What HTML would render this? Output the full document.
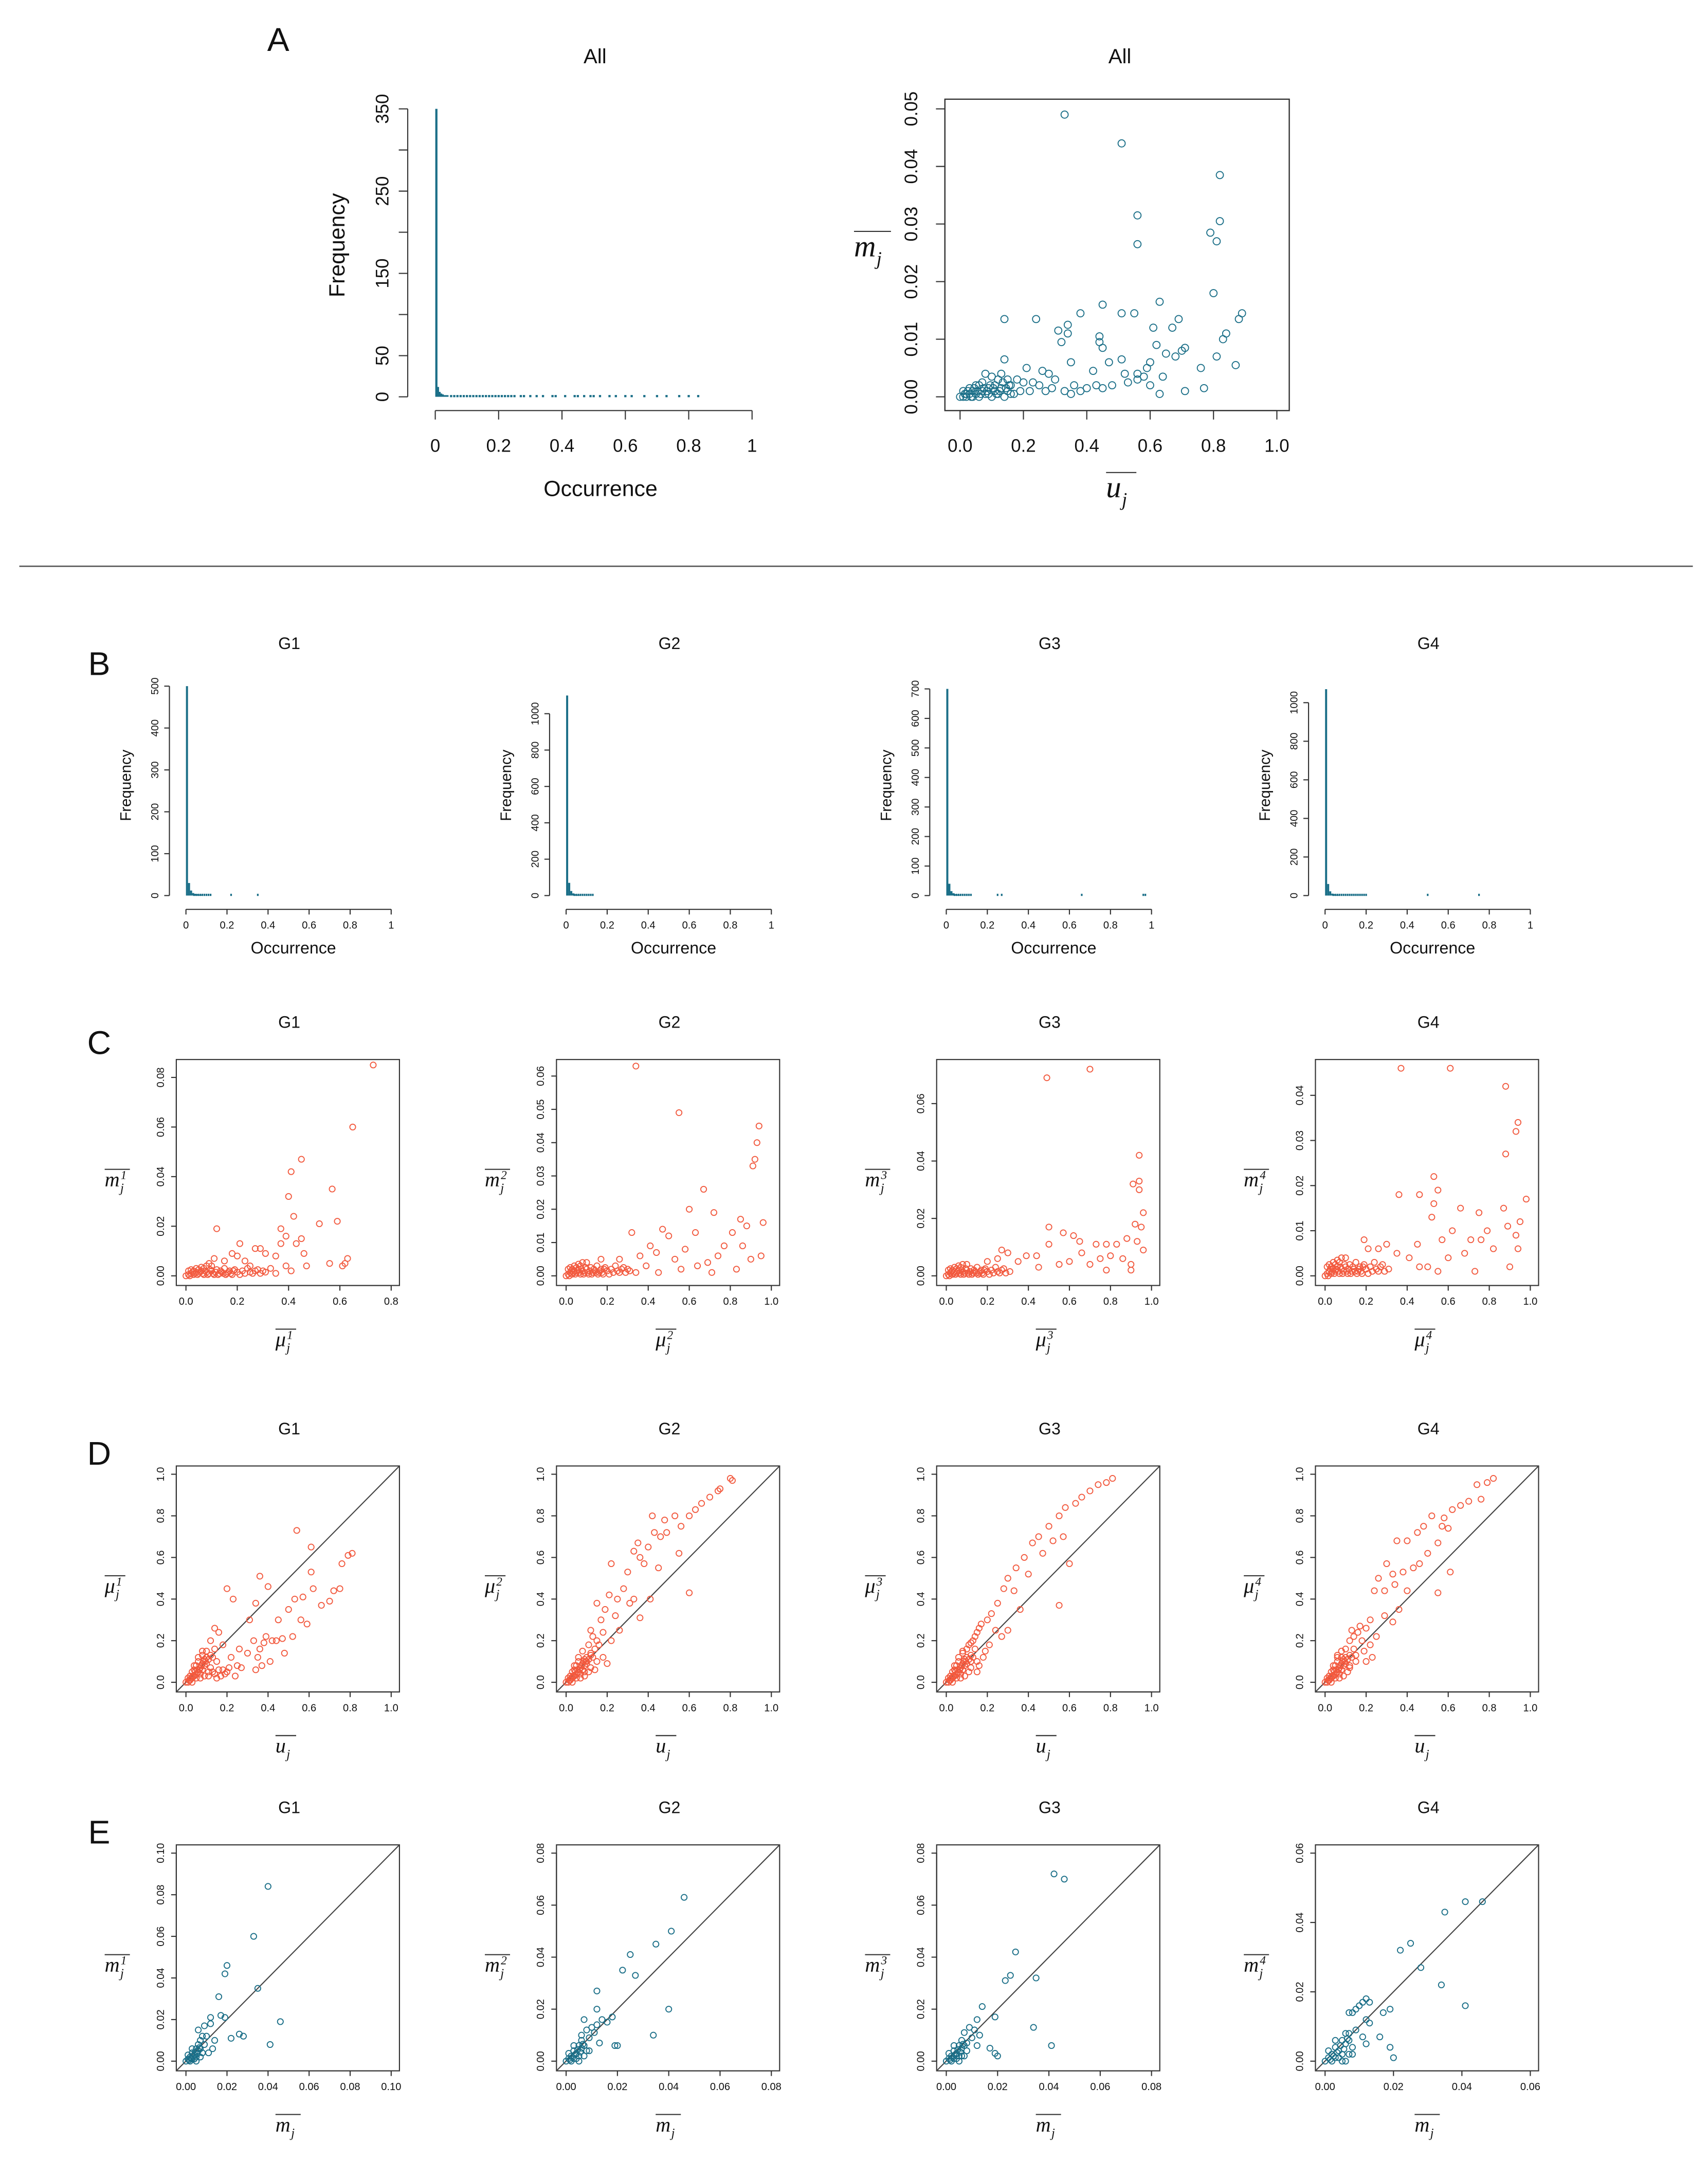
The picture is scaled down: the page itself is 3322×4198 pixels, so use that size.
<!DOCTYPE html>
<html><head><meta charset="utf-8"><title>Figure</title>
<style>
html,body{margin:0;padding:0;background:#fff;}
svg{display:block;}
text{font-family:"Liberation Sans",sans-serif;fill:#111;}
.m{font-family:"Liberation Serif",serif;font-style:italic;}
</style></head>
<body>
<svg id="fig" xmlns="http://www.w3.org/2000/svg" width="3322" height="4198" viewBox="0 0 1240 1567" preserveAspectRatio="none"></svg>
<script>
// ---------- DATA ----------
const aHistBins=[350,12,6,4,3,2,2,2];
const aHistTail=[0.05,0.06,0.07,0.08,0.09,0.1,0.11,0.12,0.13,0.14,0.15,0.16,0.17,0.18,0.19,0.2,0.21,0.22,0.23,0.24,0.25,0.27,0.28,0.3,0.32,0.34,0.37,0.38,0.41,0.44,0.45,0.47,0.49,0.5,0.52,0.55,0.57,0.6,0.62,0.66,0.7,0.73,0.77,0.8,0.83];
const aScatter=[[0.33,0.049],[0.51,0.044],[0.82,0.0385],[0.56,0.0315],[0.56,0.0265],[0.82,0.0305],[0.79,0.0285],[0.81,0.027],[0.80,0.018],[0.45,0.016],[0.63,0.0165],[0.89,0.0145],[0.88,0.0135],[0.14,0.0135],[0.24,0.0135],[0.38,0.0145],[0.51,0.0145],[0.55,0.0145],[0.69,0.0135],[0.67,0.012],[0.61,0.012],[0.31,0.0115],[0.34,0.0125],[0.34,0.011],[0.44,0.0105],[0.44,0.0095],[0.32,0.0095],[0.83,0.010],[0.84,0.011],[0.62,0.009],[0.45,0.0085],[0.70,0.008],[0.71,0.0085],[0.65,0.0075],[0.68,0.007],[0.81,0.007],[0.87,0.0055],[0.35,0.006],[0.51,0.0065],[0.14,0.0065],[0.60,0.006],[0.59,0.005],[0.76,0.005],[0.52,0.004],[0.56,0.004],[0.64,0.0035],[0.77,0.0015],[0.71,0.001],[0.63,0.0005],[0.60,0.002],[0.58,0.0035],[0.56,0.003],[0.42,0.0045],[0.47,0.006],[0.26,0.0045],[0.28,0.004],[0.21,0.005],[0.18,0.003],[0.30,0.003],[0.36,0.002],[0.40,0.0015],[0.43,0.002],[0.38,0.001],[0.33,0.001],[0.25,0.002],[0.22,0.001],[0.2,0.0025],[0.16,0.002],[0.12,0.003],[0.1,0.0035],[0.08,0.004],[0.06,0.002],[0.04,0.001],[0.02,0.0005],[0.01,0.001],[0.03,0.0015],[0.05,0.0005],[0.07,0.001],[0.09,0.0015],[0.11,0.001],[0.13,0.0015],[0.15,0.001],[0.17,0.0005],[0.19,0.001],[0.02,0.0],[0.04,0.0],[0.06,0.0],[0.08,0.0005],[0.1,0.0],[0.12,0.0005],[0.14,0.0],[0.0,0.0],[0.01,0.0],[0.03,0.0005],[0.05,0.002],[0.07,0.0025],[0.09,0.0005],[0.11,0.002],[0.13,0.004],[0.15,0.003],[0.16,0.0005],[0.23,0.0025],[0.27,0.001],[0.29,0.0015],[0.35,0.0005],[0.45,0.0015],[0.48,0.002],[0.53,0.0025],[0.015,0.0005],[0.025,0.001],[0.035,0.0],[0.045,0.0015],[0.055,0.001],[0.065,0.0005],[0.075,0.0015],[0.085,0.001],[0.095,0.002],[0.105,0.0015],[0.115,0.0005],[0.125,0.001],[0.135,0.0025],[0.145,0.0015],[0.155,0.002]];
const bBins=[[500,30,12,6,4,3,2,2],[1100,70,25,12,6,4,3],[700,40,15,8,4,3,2],[1070,60,22,10,6,4,3]];
const bTails=[[0.04,0.05,0.06,0.07,0.08,0.09,0.1,0.11,0.12,0.22,0.35],[0.04,0.05,0.06,0.07,0.08,0.09,0.1,0.11,0.12,0.13],[0.04,0.05,0.06,0.07,0.08,0.09,0.1,0.11,0.12,0.25,0.27,0.66,0.96,0.97],[0.04,0.05,0.06,0.07,0.08,0.09,0.1,0.11,0.12,0.13,0.14,0.15,0.16,0.17,0.18,0.19,0.2,0.5,0.75]];
const bYTicks=[[0,100,200,300,400,500],[0,200,400,600,800,1000],[0,100,200,300,400,500,600,700],[0,200,400,600,800,1000]];
const xTicks01=[0,0.2,0.4,0.6,0.8,1];
const cl=[[0.01,0.0005],[0.02,0.001],[0.03,0.0005],[0.04,0.0015],[0.05,0.001],[0.06,0.002],[0.07,0.0005],[0.08,0.0015],[0.09,0.001],[0.1,0.002],[0.11,0.0005],[0.12,0.0025],[0.13,0.001],[0.14,0.0015],[0.15,0.003],[0.16,0.001],[0.17,0.002],[0.18,0.0005],[0.19,0.0025],[0.2,0.0015],[0.02,0.0025],[0.04,0.003],[0.06,0.0035],[0.08,0.004],[0.1,0.004],[0.03,0.002],[0.05,0.0025],[0.07,0.003],[0.0,0.0],[0.01,0.002],[0.22,0.002],[0.24,0.003],[0.26,0.001],[0.28,0.0025],[0.015,0.0],[0.025,0.0015],[0.035,0.001],[0.045,0.0005],[0.055,0.0015],[0.065,0.001],[0.075,0.002],[0.085,0.0005],[0.095,0.0025],[0.105,0.001],[0.115,0.0015],[0.125,0.0005],[0.135,0.002],[0.145,0.001],[0.155,0.0005],[0.165,0.0015],[0.175,0.001],[0.185,0.002],[0.21,0.0005],[0.23,0.001],[0.25,0.0015],[0.27,0.002],[0.29,0.001],[0.31,0.0015]];
const c1=[[0.73,0.085],[0.65,0.060],[0.45,0.047],[0.41,0.042],[0.40,0.032],[0.57,0.035],[0.59,0.022],[0.42,0.024],[0.52,0.021],[0.37,0.019],[0.12,0.019],[0.39,0.016],[0.45,0.015],[0.43,0.013],[0.37,0.013],[0.27,0.011],[0.21,0.013],[0.29,0.011],[0.20,0.008],[0.18,0.009],[0.31,0.009],[0.35,0.008],[0.46,0.009],[0.56,0.005],[0.62,0.005],[0.63,0.007],[0.61,0.004],[0.47,0.004],[0.41,0.002],[0.33,0.003],[0.25,0.004],[0.23,0.006],[0.15,0.006],[0.11,0.007],[0.09,0.005],[0.3,0.002],[0.35,0.001],[0.39,0.004]];
const c2=[[0.34,0.063],[0.55,0.049],[0.94,0.045],[0.93,0.040],[0.92,0.035],[0.91,0.033],[0.67,0.026],[0.60,0.020],[0.72,0.019],[0.85,0.017],[0.96,0.016],[0.88,0.015],[0.47,0.014],[0.32,0.013],[0.63,0.013],[0.50,0.012],[0.81,0.013],[0.41,0.009],[0.58,0.008],[0.77,0.009],[0.86,0.009],[0.44,0.007],[0.36,0.006],[0.26,0.005],[0.17,0.005],[0.53,0.005],[0.69,0.004],[0.74,0.006],[0.9,0.005],[0.95,0.006],[0.64,0.003],[0.56,0.002],[0.45,0.001],[0.39,0.003],[0.83,0.002],[0.71,0.001],[0.3,0.002],[0.34,0.001]];
const c3=[[0.70,0.072],[0.49,0.069],[0.94,0.042],[0.91,0.032],[0.94,0.033],[0.94,0.030],[0.96,0.022],[0.92,0.018],[0.95,0.017],[0.5,0.017],[0.57,0.015],[0.62,0.014],[0.65,0.012],[0.73,0.011],[0.78,0.011],[0.83,0.011],[0.5,0.011],[0.88,0.013],[0.93,0.012],[0.96,0.009],[0.66,0.008],[0.75,0.006],[0.8,0.007],[0.86,0.006],[0.9,0.004],[0.44,0.007],[0.39,0.007],[0.3,0.008],[0.35,0.005],[0.45,0.003],[0.55,0.004],[0.6,0.005],[0.7,0.004],[0.78,0.002],[0.9,0.002],[0.25,0.006],[0.2,0.005],[0.27,0.009]];
const c4=[[0.37,0.046],[0.61,0.046],[0.88,0.042],[0.94,0.034],[0.93,0.032],[0.88,0.027],[0.53,0.022],[0.55,0.019],[0.36,0.018],[0.46,0.018],[0.53,0.016],[0.98,0.017],[0.66,0.015],[0.75,0.014],[0.87,0.015],[0.52,0.013],[0.89,0.011],[0.95,0.012],[0.62,0.010],[0.79,0.010],[0.71,0.008],[0.76,0.008],[0.93,0.009],[0.57,0.008],[0.45,0.007],[0.3,0.007],[0.26,0.006],[0.21,0.006],[0.35,0.005],[0.41,0.004],[0.5,0.002],[0.6,0.004],[0.68,0.005],[0.82,0.006],[0.9,0.002],[0.46,0.002],[0.55,0.001],[0.73,0.001],[0.94,0.006],[0.19,0.008]];
const dBase=[[0.01,0.02],[0.02,0.03],[0.03,0.05],[0.04,0.06],[0.05,0.08],[0.06,0.1],[0.02,0.01],[0.03,0.02],[0.04,0.03],[0.05,0.04],[0.06,0.05],[0.07,0.07],[0.08,0.09],[0.09,0.11],[0.1,0.12],[0.01,0.0],[0.0,0.0],[0.07,0.04],[0.08,0.06],[0.09,0.08],[0.1,0.09],[0.015,0.01],[0.025,0.02],[0.035,0.03],[0.045,0.05],[0.055,0.06],[0.065,0.06],[0.075,0.08],[0.085,0.1],[0.095,0.1],[0.11,0.11],[0.12,0.13],[0.13,0.12],[0.03,0.0],[0.05,0.02],[0.07,0.02],[0.09,0.03],[0.11,0.05],[0.12,0.07],[0.04,0.08],[0.06,0.12],[0.08,0.15],[0.14,0.16],[0.15,0.1]];
const d1=[[0.54,0.73],[0.61,0.65],[0.61,0.53],[0.36,0.51],[0.20,0.45],[0.40,0.46],[0.23,0.40],[0.34,0.38],[0.31,0.30],[0.81,0.62],[0.79,0.61],[0.76,0.57],[0.75,0.45],[0.72,0.44],[0.70,0.39],[0.66,0.37],[0.62,0.45],[0.57,0.41],[0.53,0.40],[0.56,0.30],[0.59,0.28],[0.50,0.35],[0.45,0.30],[0.42,0.20],[0.47,0.21],[0.52,0.22],[0.38,0.19],[0.33,0.20],[0.30,0.14],[0.35,0.12],[0.41,0.10],[0.37,0.08],[0.48,0.14],[0.26,0.16],[0.22,0.12],[0.27,0.07],[0.20,0.05],[0.16,0.06],[0.13,0.05],[0.11,0.03],[0.15,0.02],[0.19,0.04],[0.24,0.03],[0.14,0.26],[0.12,0.20],[0.18,0.18],[0.10,0.15],[0.08,0.13],[0.16,0.24],[0.25,0.08],[0.34,0.06],[0.18,0.06],[0.21,0.07],[0.17,0.03],[0.14,0.04],[0.44,0.2],[0.39,0.22],[0.36,0.16]];
const d2=[[0.80,0.98],[0.81,0.97],[0.75,0.93],[0.74,0.92],[0.70,0.89],[0.66,0.86],[0.63,0.83],[0.60,0.80],[0.53,0.80],[0.48,0.78],[0.42,0.80],[0.49,0.72],[0.56,0.75],[0.55,0.62],[0.60,0.43],[0.46,0.70],[0.43,0.72],[0.40,0.65],[0.35,0.67],[0.33,0.63],[0.36,0.60],[0.38,0.57],[0.30,0.53],[0.28,0.45],[0.22,0.57],[0.25,0.40],[0.21,0.42],[0.33,0.40],[0.41,0.40],[0.45,0.55],[0.36,0.31],[0.31,0.38],[0.19,0.35],[0.15,0.38],[0.17,0.30],[0.24,0.32],[0.13,0.22],[0.16,0.18],[0.18,0.12],[0.20,0.09],[0.12,0.14],[0.10,0.10],[0.14,0.06],[0.09,0.05],[0.12,0.25],[0.22,0.20],[0.26,0.25],[0.15,0.2],[0.18,0.24],[0.11,0.18]];
const d3=[[0.81,0.98],[0.78,0.96],[0.74,0.95],[0.70,0.92],[0.66,0.89],[0.63,0.86],[0.58,0.84],[0.55,0.80],[0.50,0.75],[0.45,0.70],[0.42,0.67],[0.47,0.62],[0.52,0.68],[0.38,0.60],[0.34,0.55],[0.30,0.50],[0.28,0.45],[0.33,0.44],[0.40,0.52],[0.57,0.70],[0.60,0.57],[0.55,0.37],[0.36,0.35],[0.25,0.38],[0.22,0.33],[0.20,0.30],[0.17,0.28],[0.15,0.24],[0.13,0.20],[0.11,0.18],[0.24,0.25],[0.27,0.22],[0.30,0.25],[0.18,0.12],[0.16,0.08],[0.15,0.05],[0.12,0.10],[0.19,0.15],[0.08,0.14],[0.1,0.16],[0.21,0.18],[0.14,0.22],[0.16,0.26],[0.12,0.19]];
const d4=[[0.82,0.98],[0.79,0.96],[0.74,0.95],[0.76,0.88],[0.70,0.87],[0.66,0.85],[0.62,0.83],[0.58,0.79],[0.52,0.80],[0.48,0.75],[0.45,0.72],[0.40,0.68],[0.35,0.68],[0.57,0.75],[0.60,0.74],[0.55,0.67],[0.50,0.62],[0.46,0.57],[0.43,0.55],[0.38,0.53],[0.33,0.52],[0.30,0.57],[0.26,0.50],[0.24,0.44],[0.29,0.44],[0.34,0.47],[0.40,0.44],[0.55,0.43],[0.61,0.53],[0.36,0.35],[0.33,0.29],[0.29,0.32],[0.22,0.30],[0.20,0.26],[0.16,0.24],[0.14,0.22],[0.12,0.20],[0.18,0.20],[0.22,0.18],[0.25,0.22],[0.20,0.10],[0.23,0.12],[0.15,0.13],[0.12,0.08],[0.10,0.16],[0.08,0.12],[0.06,0.13],[0.17,0.27],[0.13,0.25],[0.19,0.15]];
const eBase=[[0.001,0.001],[0.002,0.002],[0.003,0.004],[0.004,0.003],[0.005,0.006],[0.006,0.005],[0.002,0.0],[0.003,0.001],[0.0,0.0],[0.001,0.003],[0.004,0.001],[0.005,0.002],[0.006,0.008],[0.007,0.006],[0.008,0.004],[0.007,0.002],[0.0015,0.0005],[0.0025,0.0015],[0.0035,0.0025],[0.0045,0.0045],[0.0055,0.0035],[0.0065,0.0065],[0.003,0.006],[0.005,0.0]];
const e1=[[0.040,0.084],[0.033,0.060],[0.020,0.046],[0.019,0.042],[0.035,0.035],[0.016,0.031],[0.017,0.022],[0.019,0.021],[0.012,0.021],[0.012,0.018],[0.009,0.017],[0.006,0.015],[0.046,0.019],[0.041,0.008],[0.026,0.013],[0.028,0.012],[0.022,0.011],[0.014,0.010],[0.010,0.012],[0.013,0.006],[0.011,0.004],[0.009,0.008],[0.007,0.010],[0.008,0.012]];
const e2=[[0.046,0.063],[0.041,0.050],[0.035,0.045],[0.025,0.041],[0.022,0.035],[0.027,0.033],[0.012,0.027],[0.012,0.020],[0.040,0.020],[0.034,0.010],[0.020,0.006],[0.019,0.006],[0.018,0.017],[0.016,0.015],[0.014,0.016],[0.012,0.014],[0.010,0.013],[0.007,0.016],[0.009,0.009],[0.011,0.011],[0.013,0.007],[0.008,0.012],[0.006,0.010],[0.007,0.006],[0.009,0.004]];
const e3=[[0.042,0.072],[0.046,0.070],[0.027,0.042],[0.025,0.033],[0.023,0.031],[0.035,0.032],[0.014,0.021],[0.019,0.017],[0.034,0.013],[0.041,0.006],[0.017,0.005],[0.019,0.003],[0.020,0.002],[0.012,0.016],[0.011,0.012],[0.013,0.010],[0.010,0.009],[0.009,0.013],[0.008,0.007],[0.012,0.006],[0.006,0.002],[0.004,0.002],[0.007,0.011]];
const e4=[[0.046,0.046],[0.041,0.046],[0.035,0.043],[0.025,0.034],[0.022,0.032],[0.028,0.027],[0.034,0.022],[0.041,0.016],[0.012,0.018],[0.013,0.017],[0.011,0.017],[0.010,0.016],[0.009,0.015],[0.008,0.014],[0.007,0.014],[0.012,0.012],[0.013,0.011],[0.017,0.014],[0.019,0.015],[0.016,0.007],[0.019,0.004],[0.020,0.001],[0.012,0.005],[0.008,0.002],[0.006,0.0],[0.011,0.007],[0.009,0.009],[0.007,0.008]];

// ---------- HELPERS ----------
const NS='http://www.w3.org/2000/svg';
const svg=document.getElementById('fig');
const TEAL='#1b6f88', RED='#f25a3f', AX='#333';
function mk(tag,attrs,parent){const e=document.createElementNS(NS,tag);for(const k in attrs)e.setAttribute(k,attrs[k]);(parent||svg).appendChild(e);return e;}
function txt(x,y,s,size,parent,extra){const e=mk('text',Object.assign({x:x,y:y,'font-size':size,'text-anchor':'middle'},extra||{}),parent);e.textContent=s;return e;}
function lin(sc0,sc1,p0,p1){return v=>p0+(v-sc0)/(sc1-sc0)*(p1-p0);}
function fmt(v,d){return d===0?String(v):v.toFixed(d);}
function mathLabel(x,y,base,sup,size,parent){
  const g=mk('g',{},parent);
  txt(x,y,base,size,g,{'class':'m','text-anchor':'start'});
  const w=size*(base==='m'?0.72:0.5);
  txt(x+w+0.5,y+size*0.28,'j',size*0.62,g,{'class':'m','text-anchor':'start'});
  if(sup)txt(x+w+0.8,y-size*0.35,sup,size*0.58,g,{'class':'m','text-anchor':'start'});
  mk('line',{x1:x,x2:x+w+size*0.5,y1:y-size*0.82,y2:y-size*0.82,stroke:'#333','stroke-width':0.8},g);
  return g;
}
function axisX(g,sx,ticks,dec,y,size,lblY){
  mk('line',{x1:sx(ticks[0]),x2:sx(ticks[ticks.length-1]),y1:y,y2:y,stroke:AX,'stroke-width':0.8},g);
  ticks.forEach(v=>{mk('line',{x1:sx(v),x2:sx(v),y1:y,y2:y+size*0.5,stroke:AX,'stroke-width':0.8},g);txt(sx(v),lblY,fmt(v,dec),size,g);});
}
function axisY(g,sy,ticks,dec,x,size,lblX,labels){
  mk('line',{x1:x,x2:x,y1:sy(ticks[0]),y2:sy(ticks[ticks.length-1]),stroke:AX,'stroke-width':0.8},g);
  ticks.forEach((v,i)=>{mk('line',{x1:x,x2:x-size*0.5,y1:sy(v),y2:sy(v),stroke:AX,'stroke-width':0.8},g);
    if(!labels||labels[i]){txt(lblX,sy(v),fmt(v,dec),size,g,{transform:'rotate(-90 '+lblX+' '+sy(v)+')'});}});
}
function dots(g,pts,sx,sy,r,col){pts.forEach(p=>{const c=mk('circle',{cx:sx(p[0]),cy:sy(p[1]),r:r,fill:'none',stroke:col,'stroke-width':0.7},g);
  
  });}
function hist(g,bins,tail,bw,sx,sy,col,w){
  bins.forEach((c,i)=>{const x=sx(i*bw);const r=mk('rect',{x:x,y:sy(c),width:Math.max(sx(bw)-sx(0),w),height:sy(0)-sy(c),fill:col},g);
    
    });
  tail.forEach(v=>{const r=mk('rect',{x:sx(v)-w/2,y:sy(0)-1.3,width:w,height:1.6,fill:col},g);
    
    });
}
function letter(x,y,s){const t=txt(x,y,s,24,svg);}

// ---------- PANEL A ----------
letter(202,37,'A');
(function(){
  const g=mk('g',{});
  
  
  const sx=lin(0,1,316,546), sy=lin(0,350,288,79);
  txt(432,46,'All',15,g);
  hist(g,aHistBins,aHistTail,0.005,sx,sy,TEAL,1.6);
  axisX(g,sx,xTicks01,0,298,13,328);
  axisY(g,sy,[0,50,100,150,200,250,300,350],0,296,13,282,[1,1,0,1,0,1,0,1]);
  txt(250,178,'Frequency',16,g,{transform:'rotate(-90 250 178)'});
  txt(436,360,'Occurrence',16,g);
})();
(function(){
  const g=mk('g',{});
  
  
  const sx=lin(0,1,697,927), sy=lin(0,0.05,288,79);
  txt(813,46,'All',15,g);
  mk('rect',{x:686,y:72,width:250,height:226,fill:'none',stroke:AX,'stroke-width':0.9},g);
  dots(g,aScatter,sx,sy,2.6,TEAL);
  axisX(g,sx,[0,0.2,0.4,0.6,0.8,1],1,298,13,328);
  axisY(g,sy,[0,0.01,0.02,0.03,0.04,0.05],2,686,13,666);
  mathLabel(620,186,'m','',22,g);
  mathLabel(803,361,'u','',22,g);
})();
mk('line',{x1:14,x2:1229,y1:411,y2:411,stroke:'#555','stroke-width':1});

// ---------- PANEL B ----------
letter(72,490,'B');
const COL=[0,276,552,827];
const bTop=[[500,498],[1000,518],[700,500],[1000,510]];
for(let i=0;i<4;i++){
  const dx=COL[i];
  const g=mk('g',{});
  
  
  const sx=lin(0,1,135+dx,284+dx), sy=lin(0,bTop[i][0],650,bTop[i][1]);
  txt(210+dx,471,'G'+(i+1),12,g);
  hist(g,bBins[i],bTails[i],0.01,sx,sy,TEAL,1.2);
  axisX(g,sx,xTicks01,0,660,7.5,674);
  axisY(g,sy,bYTicks[i],0,123+dx,7.5,115+dx);
  txt(95+dx,570,'Frequency',11,g,{transform:'rotate(-90 '+(95+dx)+' 570)'});
  txt(213+dx,692,'Occurrence',12,g);
}

function boxPanel(name,i,top,title,pts,col,xt,xd,yt,yd,yPix,diag,ylab,xlab){
  const dx=COL[i];
  const g=mk('g',{});
  
  
  const bx0=128+dx,bx1=290+dx,by0=top,by1=top+164;
  txt(210+dx,top-23,title,12,g);
  mk('rect',{x:bx0,y:by0,width:bx1-bx0,height:by1-by0,fill:'none',stroke:AX,'stroke-width':0.8},g);
  const sxx=lin(0,xt[xt.length-1],135+dx,284+dx);
  const sy=lin(0,yPix[0],by1-7,yPix[1]);
  if(diag){const d=mk('line',{x1:bx0,y1:by1,x2:bx1,y2:by0,stroke:'#444','stroke-width':0.8},g);
    
    }
  dots(g,pts,sxx,sy,2.1,col);
  axisX(g,sxx,xt,xd,by1,7.5,by1+14);
  axisY(g,sy,yt,yd,bx0,7.5,bx0-9);
  mathLabel(76+dx,top+92,ylab[0],ylab[1],15,g);
  mathLabel(200+dx,top+208,xlab[0],xlab[1],15,g);
}
letter(72,765,'C');
const cPts=[cl.concat(c1),cl.concat(c2),cl.concat(c3),cl.concat(c4)];
const cYT=[[0,0.02,0.04,0.06,0.08],[0,0.01,0.02,0.03,0.04,0.05,0.06],[0,0.02,0.04,0.06],[0,0.01,0.02,0.03,0.04]];
const cYP=[[0.08,782],[0.06,781],[0.06,801],[0.04,795]];
for(let i=0;i<4;i++){
  const xt=i===0?[0,0.2,0.4,0.6,0.8]:xTicks01;
  boxPanel('panel-c-scatter-g'+(i+1),i,769,'G'+(i+1),cPts[i],RED,xt,1,cYT[i],2,cYP[i],false,['m',String(i+1)],['μ',String(i+1)]);
}
letter(72,1063,'D');
const dPts=[dBase.concat(d1),dBase.concat(d2),dBase.concat(d3),dBase.concat(d4)];
for(let i=0;i<4;i++){
  boxPanel('panel-d-scatter-g'+(i+1),i,1064,'G'+(i+1),dPts[i],RED,xTicks01,1,xTicks01,1,[1,1070],true,['μ',String(i+1)],['u','']);
}
letter(72,1338,'E');
const ePts=[eBase.concat(e1),eBase.concat(e2),eBase.concat(e3),eBase.concat(e4)];
const eT=[[0,0.02,0.04,0.06,0.08,0.1],[0,0.02,0.04,0.06,0.08],[0,0.02,0.04,0.06,0.08],[0,0.02,0.04,0.06]];
for(let i=0;i<4;i++){
  const mx=eT[i][eT[i].length-1];
  boxPanel('panel-e-scatter-g'+(i+1),i,1339,'G'+(i+1),ePts[i],TEAL,eT[i],2,eT[i],2,[mx,1345],true,['m',String(i+1)],['m','']);
}
</script>
</body></html>
